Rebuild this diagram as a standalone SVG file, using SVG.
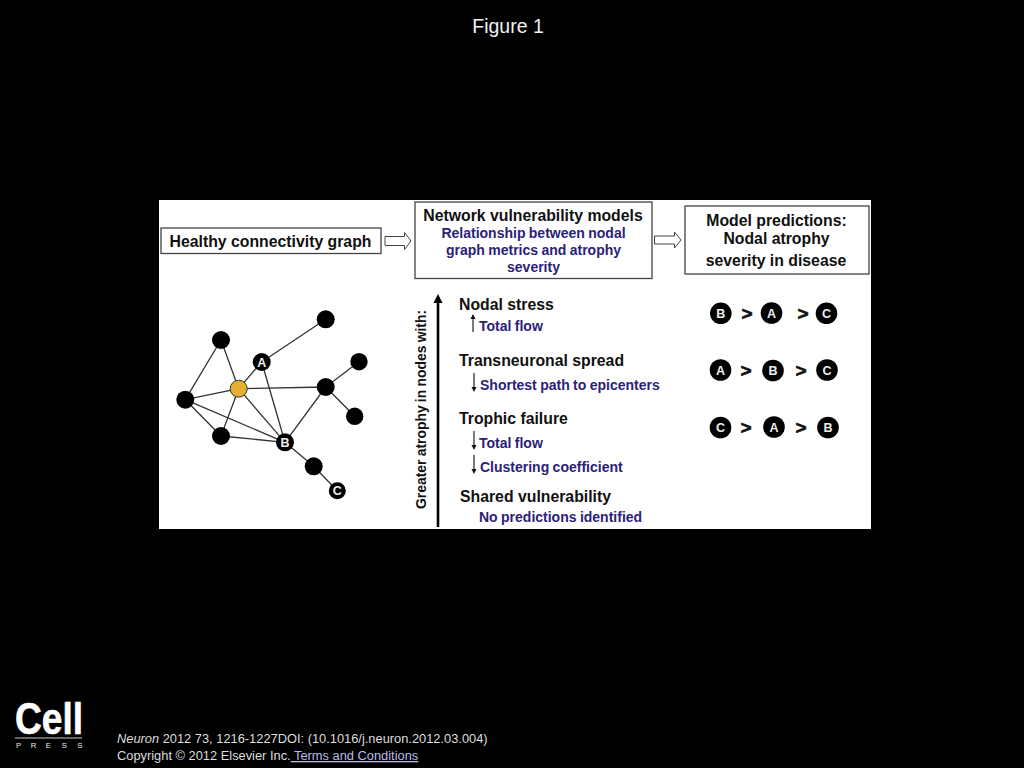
<svg xmlns="http://www.w3.org/2000/svg" width="1024" height="768" viewBox="0 0 1024 768">
<style>
text{font-family:"Liberation Sans",Arial,sans-serif}
.h{font-weight:bold;font-size:15.8px;fill:#111}
.b{font-weight:bold;font-size:14px;fill:#2a2278;word-spacing:-.5px}
.m{text-anchor:middle}
.box{fill:#fff;stroke:#444;stroke-width:1.3}
.e{stroke:#333;stroke-width:1.3;fill:none}
.n{fill:#000}
.l{font-weight:bold;font-size:12.5px;fill:#eee;text-anchor:middle}
.gt{font-weight:bold;font-size:19px;fill:#111;stroke:#111;stroke-width:.6;text-anchor:middle}
.ar{fill:#fff;stroke:#444;stroke-width:1}
.s{stroke:#222;stroke-width:1.2;fill:none}
.hd{fill:#111}
.f{fill:#ddd;font-size:12.85px}
</style>
<rect width="1024" height="768" fill="#000"/>
<text x="508" y="33" class="m" font-size="19.5" fill="#f2f2f2">Figure 1</text>
<rect x="159" y="200" width="712" height="329" fill="#fff"/>

<g id="connectors">
<path class="e" d="M221 340L185.300 399.700M221 340L238.700 388.700M261.700 362L325.700 319.300M261.700 362L238.700 388.700M261.700 362L285 442.300M238.700 388.700L325.700 387M238.700 388.700L185.300 399.700M238.700 388.700L221 436M238.700 388.700L285 442.300M185.300 399.700L221 436M185.300 399.700L285 442.300M221 436L285 442.300M325.700 387L285 442.300M325.700 387L359 361.700M325.700 387L354.700 416.300M285 442.300L313.700 466.300L337.300 490.700"/>
<path class="ar" d="M385 236.500H404.500V232.500L411 241L404.500 249.500V245.500H385Z"/>
<path class="ar" d="M654.500 236H674.500V232L681 240L674.500 248V244H654.500Z"/>
<path d="M438 527V302" stroke="#000" stroke-width="2.600" fill="none"/>
<path d="M433.500 303L438 294L442.500 303Z" fill="#000"/>
<path class="s" d="M473 332V318"/><path class="hd" d="M470.500 319L473 314L475.500 319Z"/>
<path class="s" d="M474 373V388"/><path class="hd" d="M471.500 387L474 392L476.500 387Z"/>
<path class="s" d="M474 431V446"/><path class="hd" d="M471.500 445L474 450L476.500 445Z"/>
<path class="s" d="M474 455V470"/><path class="hd" d="M471.500 469L474 474L476.500 469Z"/>
</g>

<g id="box-healthy"><rect class="box" x="161" y="228" width="220" height="25.500"/>
<text x="270.500" y="246.500" class="h m">Healthy connectivity graph</text></g>
<g id="box-models"><rect class="box" x="415" y="202" width="237" height="76.500"/>
<text x="533" y="221" class="h m">Network vulnerability models</text>
<text x="533.500" y="238" class="b m">Relationship between nodal</text>
<text x="533.500" y="255" class="b m">graph metrics and atrophy</text>
<text x="533.500" y="272" class="b m">severity</text></g>
<g id="box-predictions"><rect class="box" x="685" y="206" width="184" height="68"/>
<text x="776.500" y="226" class="h m">Model predictions:</text>
<text x="776.500" y="244" class="h m">Nodal atrophy</text>
<text x="776" y="266" class="h m">severity in disease</text></g>

<g id="graph-nodes">
<circle id="node-top" class="n" cx="325.700" cy="319.300" r="9"/>
<circle id="node-upper-left" class="n" cx="221" cy="340" r="9"/>
<g id="node-a"><circle class="n" cx="261.700" cy="362" r="9"/><text class="l" x="261.700" y="366.500">A</text></g>
<circle id="node-right-top" class="n" cx="359" cy="361.700" r="8.700"/>
<circle id="node-yellow" cx="238.700" cy="388.700" r="8.500" fill="#e3b02f" stroke="#333" stroke-width="1"/>
<circle id="node-hub" class="n" cx="325.700" cy="387" r="9"/>
<circle id="node-left" class="n" cx="185.300" cy="399.700" r="9"/>
<circle id="node-right-bottom" class="n" cx="354.700" cy="416.300" r="8.700"/>
<circle id="node-lower-left" class="n" cx="221" cy="436" r="9"/>
<g id="node-b"><circle class="n" cx="285" cy="442.300" r="9"/><text class="l" x="285" y="446.800">B</text></g>
<circle id="node-lower" class="n" cx="313.700" cy="466.300" r="9"/>
<g id="node-c"><circle class="n" cx="337.300" cy="490.700" r="8.500"/><text class="l" x="337.300" y="495.200">C</text></g>
</g>

<text transform="translate(425.500 509) rotate(-90)" font-weight="bold" font-size="13.900" fill="#111" word-spacing="-.6">Greater atrophy in nodes with:</text>

<g id="models-list">
<text x="459" y="310" class="h">Nodal stress</text>
<text x="479" y="331" class="b">Total flow</text>
<text x="459" y="366" class="h">Transneuronal spread</text>
<text x="480" y="390" class="b">Shortest path to epicenters</text>
<text x="459" y="424" class="h">Trophic failure</text>
<text x="479" y="448" class="b">Total flow</text>
<text x="480" y="472" class="b">Clustering coefficient</text>
<text x="460" y="502" class="h">Shared vulnerability</text>
<text x="479" y="522" class="b">No predictions identified</text>
</g>

<g id="prediction-1">
<circle class="n" cx="720.800" cy="313.300" r="10.800"/><text class="l" x="720.800" y="317.800">B</text>
<text class="gt" x="747" y="320">&gt;</text>
<circle class="n" cx="771.500" cy="313" r="10.800"/><text class="l" x="771.500" y="317.500">A</text>
<text class="gt" x="803" y="320">&gt;</text>
<circle class="n" cx="826.500" cy="313.300" r="10.800"/><text class="l" x="826.500" y="317.800">C</text>
</g>
<g id="prediction-2">
<circle class="n" cx="720.500" cy="370" r="10.800"/><text class="l" x="720.500" y="374.500">A</text>
<text class="gt" x="746" y="377">&gt;</text>
<circle class="n" cx="773" cy="370.500" r="10.800"/><text class="l" x="773" y="375">B</text>
<text class="gt" x="801" y="377">&gt;</text>
<circle class="n" cx="827" cy="370" r="10.800"/><text class="l" x="827" y="374.500">C</text>
</g>
<g id="prediction-3">
<circle class="n" cx="720.500" cy="427.500" r="10.800"/><text class="l" x="720.500" y="432">C</text>
<text class="gt" x="746" y="434">&gt;</text>
<circle class="n" cx="774" cy="427" r="10.800"/><text class="l" x="774" y="431.500">A</text>
<text class="gt" x="801" y="434">&gt;</text>
<circle class="n" cx="828" cy="427.500" r="10.800"/><text class="l" x="828" y="432">B</text>
</g>

<g id="logo">
<text x="15" y="734" font-size="44" font-weight="bold" fill="#fff" stroke="#fff" stroke-width=".6" textLength="68" lengthAdjust="spacingAndGlyphs">Cell</text>
<rect x="15" y="737.500" width="67" height="1" fill="#ccc"/>
<text x="16 30.700 45.700 61.700 77.300" y="747.500" font-size="7.800" fill="#eee">PRESS</text>
</g>
<g id="citation">
<text x="117" y="743" class="f"><tspan font-style="italic">Neuron</tspan> 2012 73, 1216-1227DOI: (10.1016/j.neuron.2012.03.004)</text>
<text x="117" y="760" class="f">Copyright © 2012 Elsevier Inc.<tspan fill="#b9bce8" text-decoration="underline"> Terms and Conditions</tspan></text>
</g>
</svg>
